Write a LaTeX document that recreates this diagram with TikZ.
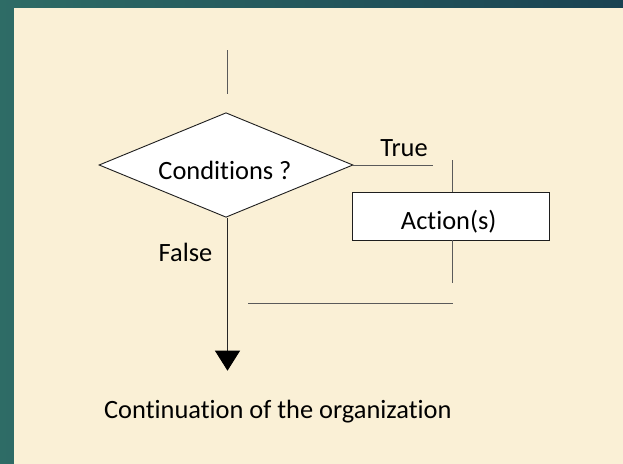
\documentclass[tikz,border=0pt]{standalone}
\usepackage{fontspec}
\setmainfont{Carlito}[Ligatures=NoCommon]
\usetikzlibrary{shapes.geometric,arrows.meta}
\definecolor{tealL}{RGB}{46,108,102}
\definecolor{tealR}{RGB}{25,66,82}
\definecolor{cream}{RGB}{250,240,214}
\definecolor{shapeline}{RGB}{30,30,30}
\definecolor{connline}{RGB}{90,90,90}
\tikzset{
  txt/.style={font=\fontsize{26.4}{30}\selectfont, text=black, inner sep=0pt, anchor=base},
  decision/.style={diamond, draw=shapeline, fill=white, line width=0.9pt, inner sep=0pt,
    minimum width=254pt, minimum height=104.6pt},
  actionbox/.style={rectangle, draw=shapeline, fill=white, line width=0.9pt, inner sep=0pt,
    minimum width=196.7pt, minimum height=47.7pt},
  conn/.style={draw=connline, line width=0.9pt},
  mainconn/.style={draw=black!85, line width=0.9pt,
    -{Triangle[length=20pt,width=25pt,fill=black,color=black]}},
}
\begin{document}
\begin{tikzpicture}[x=1pt,y=-1pt]
  \useasboundingbox (0,0) rectangle (623,463);
  \shade[left color=tealL, right color=tealR] (-2,-2) rectangle (625,465);
  \fill[cream] (14,8) rectangle (626,466);

  % nodes
  \node[decision] (cond) at (226,165) {};
  \node[txt] (condtxt) at (225,179) {Conditions ?};
  \node[actionbox] (act) at (450.65,216.15) {};
  \node[txt] (acttxt) at (448.7,229.3) {Action(s)};
  \node[txt] (truetxt) at (404,156) {True};
  \node[txt] (falsetxt) at (185.5,261.7) {False};
  \node[txt] (conttxt) at (277.9,418.3) {Continuation of the organization};

  % free ends
  \coordinate (t1) at (227,50);
  \coordinate (t2) at (227,94);
  \coordinate (trueend) at (433,165);
  \coordinate (a1) at (452.7,160);
  \coordinate (a2) at (452.7,283);
  \coordinate (h1) at (248,303);
  \coordinate (h2) at (452.7,303);
  \coordinate (tip) at (227.5,370.7);

  % connectors
  \draw[conn] (t1) -- (t2);
  \draw[conn] (cond.east) -- (trueend);
  \draw[conn] (a1) -- (a1 |- act.north);
  \draw[conn] (a1 |- act.south) -- (a2);
  \draw[conn] (h1) -- (h2);
  \draw[mainconn] (cond.south -| tip) -- (tip);
\end{tikzpicture}
\end{document}
